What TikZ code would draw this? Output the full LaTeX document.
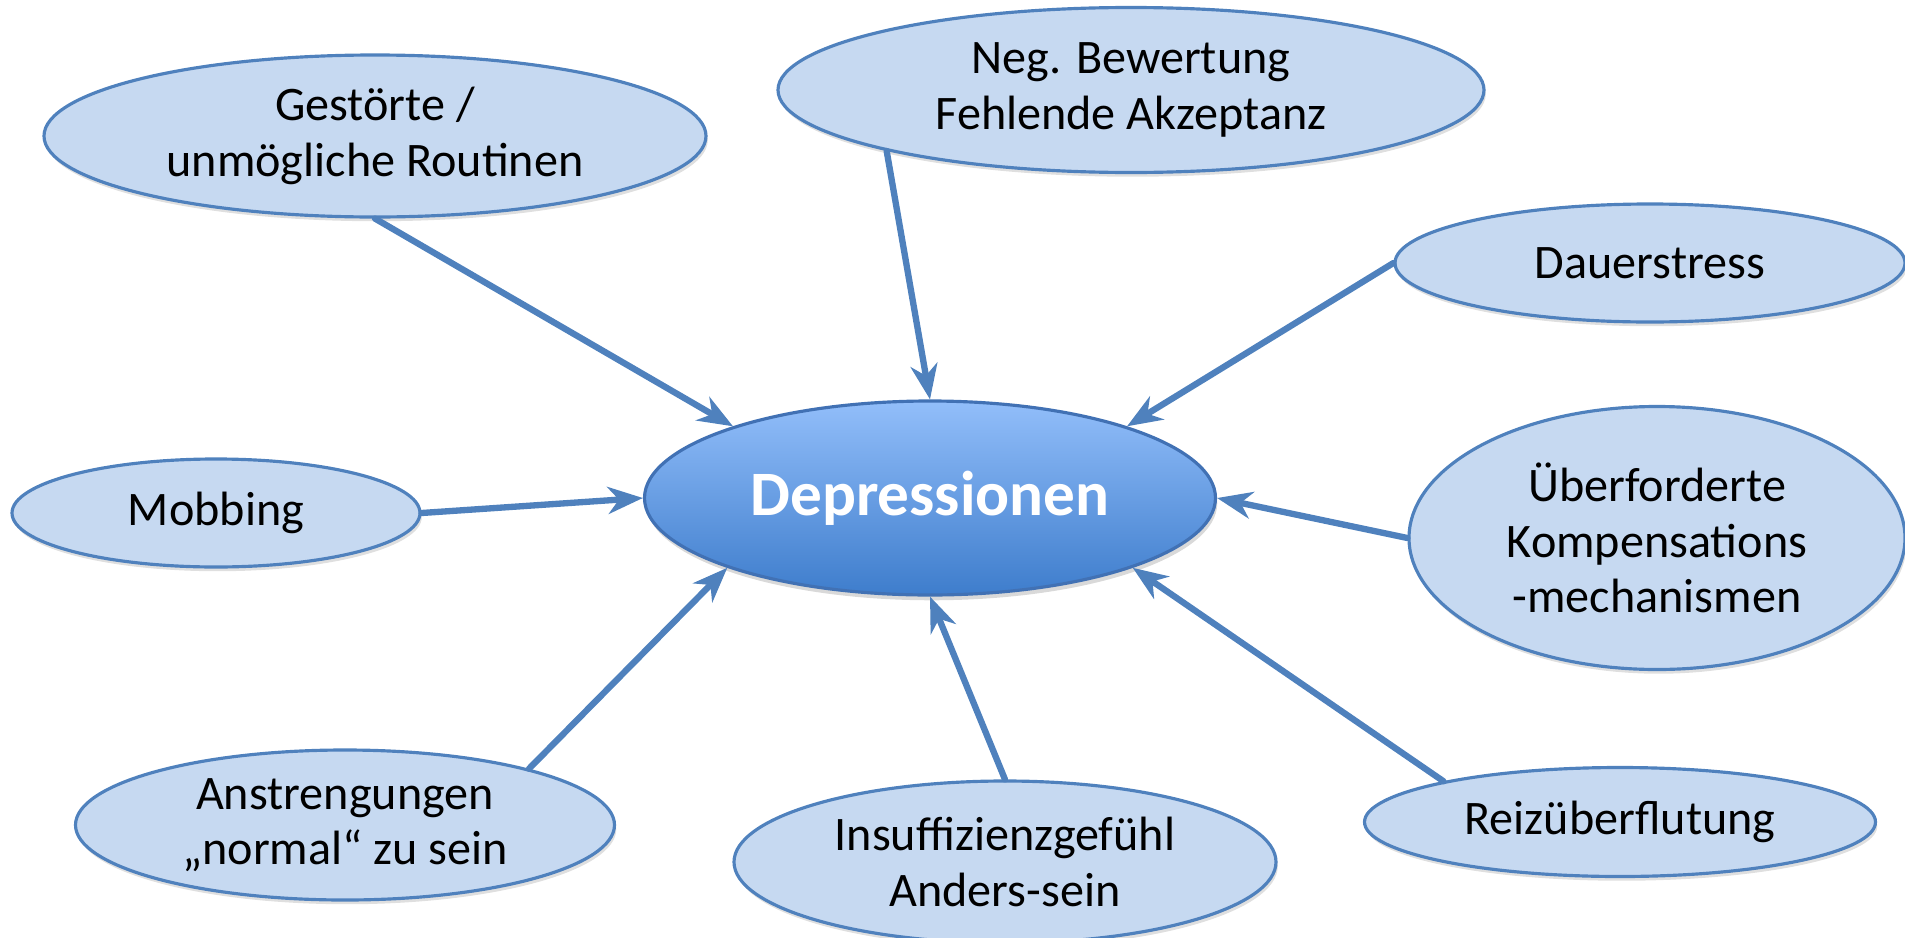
\documentclass[tikz,border=0pt]{standalone}
\usepackage{fontspec}
\setmainfont{Carlito}
\usetikzlibrary{arrows.meta,shapes.geometric,shadows}

\definecolor{bubblefill}{RGB}{198,217,241}
\definecolor{bubbleline}{RGB}{79,129,189}
\definecolor{arrowblue}{RGB}{79,129,189}
\definecolor{coretop}{RGB}{146,190,250}
\definecolor{corebottom}{RGB}{62,125,204}
\definecolor{coreline}{RGB}{65,113,180}

\begin{document}
\begin{tikzpicture}[line cap=round,line join=round,>={Stealth[length=3.5mm,width=2.7mm,inset=1.1mm]},x=1.0cm,y=1.0cm,
    bubble/.style={ellipse,draw=bubbleline,line width=0.9pt,fill=bubblefill,inner sep=0pt,align=center,
        font=\fontsize{13.7}{15.8}\selectfont,
        drop shadow={opacity=0.25,shadow xshift=0.5pt,shadow yshift=-1.2pt}},
    core/.style={ellipse,draw=coreline,line width=0.9pt,top color=coretop,bottom color=corebottom,inner sep=0pt,
        text=white,font=\fontsize{18}{21}\selectfont\bfseries,
        drop shadow={opacity=0.3,shadow xshift=0.5pt,shadow yshift=-1.5pt}},
    feed/.style={->,line width=1.8pt,draw=arrowblue}]
            \useasboundingbox (0.,0.) rectangle (19.05,9.37);

            \node [core, minimum width=5.71cm, minimum height=1.94cm] (dep) at (9.30,4.39) {Depressionen};

            \node [bubble, minimum width=6.62cm, minimum height=1.62cm] (gest) at (3.75,8.01) {Gestörte /\\unmögliche Routinen};
            \node [bubble, minimum width=7.06cm, minimum height=1.65cm] (neg) at (11.31,8.47) {Neg. Bewertung\\Fehlende Akzeptanz};
            \node [bubble, minimum width=5.10cm, minimum height=1.18cm] (dauer) at (16.50,6.74) {Dauerstress};
            \node [bubble, minimum width=4.08cm, minimum height=1.08cm] (mob) at (2.16,4.24) {Mobbing};
            \node [bubble, minimum width=4.96cm, minimum height=2.63cm] (ueber) at (16.57,3.99) {Überforderte\\Kompensations\\-mechanismen};
            \node [bubble, minimum width=5.39cm, minimum height=1.50cm] (anstr) at (3.45,1.12) {Anstrengungen\\„normal“ zu sein};
            \node [bubble, minimum width=5.42cm, minimum height=1.62cm] (insuff) at (10.05,0.75) {Insuffizienzgefühl\\Anders-sein};
            \node [bubble, minimum width=5.11cm, minimum height=1.09cm] (reiz) at (16.20,1.15) {Reizüberflutung};

            \draw [feed] (gest.south) -- (dep.160);
            \draw [feed] (neg.194) -- (dep.north);
            \draw [feed] (dauer.west) -- (dep.20);
            \draw [feed] (mob.east) -- (dep.west);
            \draw [feed] (ueber.west) -- (dep.east);
            \draw [feed] (anstr.17) -- (dep.-161);
            \draw [feed] (insuff.north) -- (dep.south);
            \draw [feed] (reiz.167) -- (dep.-19);
\end{tikzpicture}
\end{document}
